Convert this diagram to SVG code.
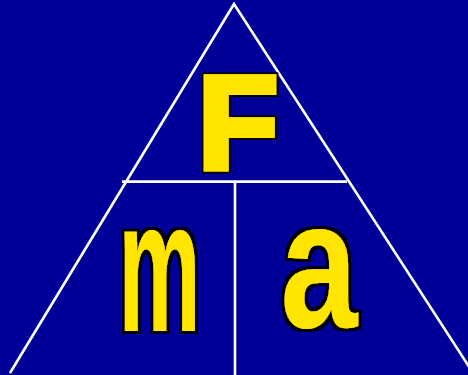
<svg xmlns="http://www.w3.org/2000/svg" width="468" height="375" viewBox="0 0 468 375">
  <style>
    .ln { stroke: #ffffff; stroke-width: 2.6; fill: none; }
    .lt { font-family: "Liberation Sans", Arial, sans-serif; font-weight: bold; fill: #ffe500; }
  </style>
  <defs>
    <filter id="outF" x="-20%" y="-20%" width="140%" height="140%">
      <feMorphology in="SourceAlpha" operator="dilate" radius="2.5" result="y"/>
      <feMorphology in="SourceAlpha" operator="dilate" radius="5" result="b"/>
      <feFlood flood-color="#000000" result="bc"/>
      <feComposite in="bc" in2="b" operator="in" result="bo"/>
      <feFlood flood-color="#ffe500" result="yc"/>
      <feComposite in="yc" in2="y" operator="in" result="yo"/>
      <feMerge><feMergeNode in="bo"/><feMergeNode in="yo"/></feMerge>
    </filter>
    <filter id="outL" x="-20%" y="-20%" width="140%" height="140%">
      <feMorphology in="SourceAlpha" operator="dilate" radius="2.5" result="b"/>
      <feFlood flood-color="#000000" result="bc"/>
      <feComposite in="bc" in2="b" operator="in" result="bo"/>
      <feMerge><feMergeNode in="bo"/><feMergeNode in="SourceGraphic"/></feMerge>
    </filter>
  </defs>
  <rect x="0" y="0" width="468" height="375" fill="#000099"/>
  <g id="connectors">
    <polyline class="ln" points="10,373 234,4 475,376" stroke-linejoin="miter"/>
    <line class="ln" x1="122" y1="181.6" x2="347" y2="181.6"/>
    <line class="ln" x1="235" y1="181.6" x2="235" y2="376"/>
  </g>
  <g id="node-F" filter="url(#outF)">
    <text class="lt" x="198" y="167.5" font-size="131">F</text>
  </g>
  <g id="node-m" filter="url(#outL)">
    <text class="lt" font-size="188" transform="translate(118.4,330.5) scale(0.491,1)">m</text>
  </g>
  <g id="node-a" filter="url(#outL)">
    <text class="lt" font-size="182" transform="translate(280.5,327) scale(0.76,1)">a</text>
  </g>
</svg>
